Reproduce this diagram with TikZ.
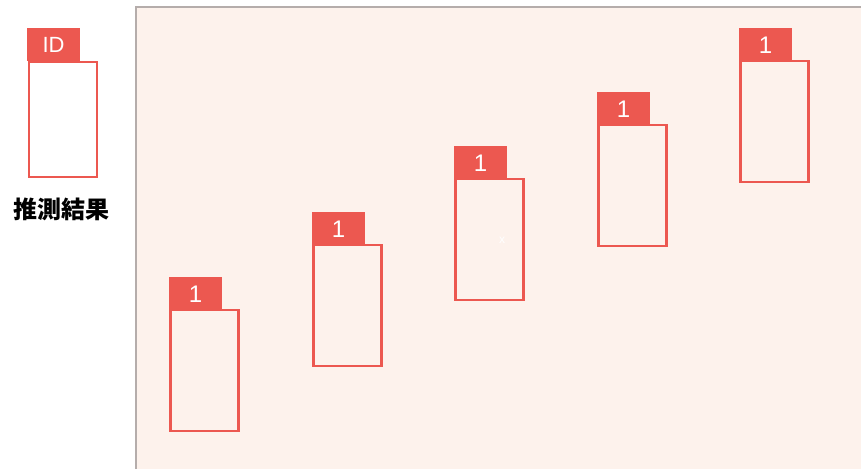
\documentclass[tikz,border=0pt]{standalone}
\usepackage{fontspec}
\setmainfont{Liberation Sans}
\newfontfamily\cjk{Noto Sans CJK JP}
\definecolor{redc}{HTML}{EC5850}
\definecolor{panelbg}{HTML}{FDF2EC}
\definecolor{panelline}{HTML}{B5ADAB}
\begin{document}
\begin{tikzpicture}[x=1pt,y=-1pt,
  tabtext/.style={text=white,inner sep=0pt},
  bodybox/.style={draw=redc,line width=2.8pt},
]
\useasboundingbox (0,0) rectangle (861,469);
% panel
\fill[panelbg] (136,7) rectangle (861,469);
\draw[panelline,line width=1.3pt] (136,469) -- (136,7) -- (861,7);
% legend
\path[fill=redc] (27,28) rectangle (80,61);
\node[tabtext,font=\fontsize{22}{22}\selectfont] (lid) at (53.5,45) {ID};
\draw[bodybox,fill=white] (29,62) rectangle (97,177);
\node[font=\cjk\bfseries\fontsize{24}{24}\selectfont] (lbl) at (61,209) {推測結果};
% boxes
\foreach \x/\y [count=\i] in {169/277, 312/212, 454/146, 597/92, 739/28}{
  \path[fill=redc] (\x,\y) rectangle ++(53,33);
  \node[tabtext,font=\fontsize{24}{24}\selectfont] (t\i) at (\x+26.5,\y+17) {1};
  \draw[bodybox] (\x+1.3,\y+33) rectangle ++(68,121);
}
\node[text=white,font=\fontsize{12}{12}\selectfont] (xm) at (502,240) {x};
\end{tikzpicture}
\end{document}
